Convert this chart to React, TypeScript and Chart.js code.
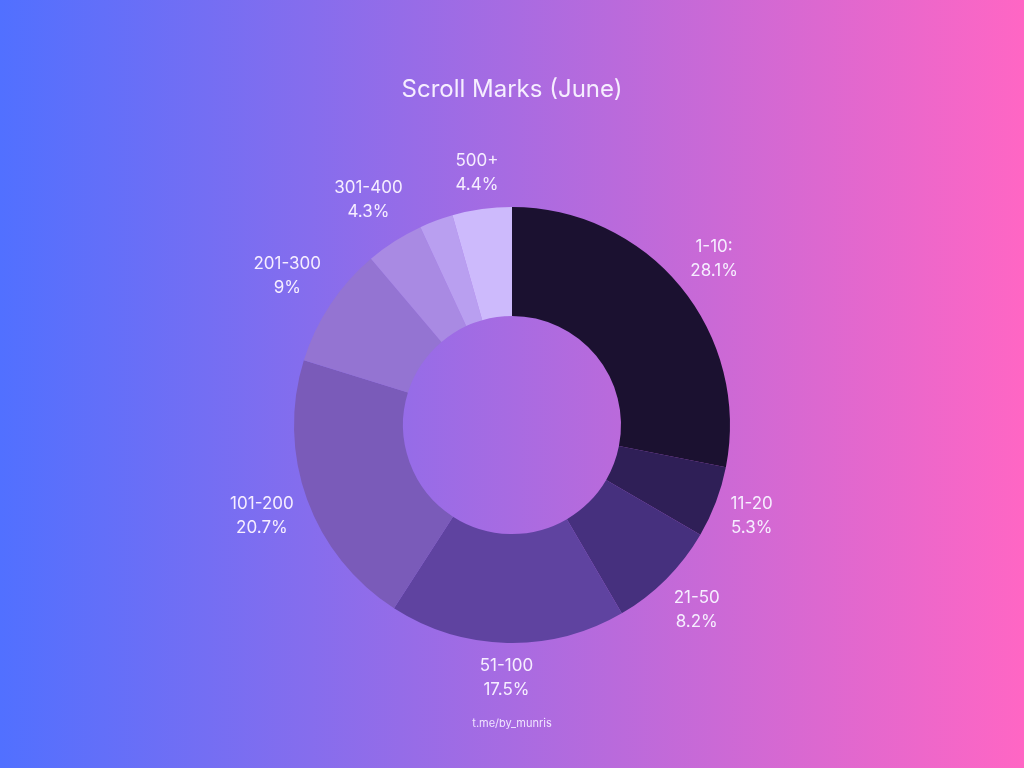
import React, { useEffect, useRef } from 'react';
import { Chart, registerables, Plugin } from 'chart.js';

Chart.register(...registerables);

const ranges = ['1-10', '11-20', '21-50', '51-100', '101-200', '201-300', '301-400', '401-500', '500+'];
const shares = [28.1, 5.3, 8.2, 17.5, 20.7, 9, 4.3, 2.5, 4.4];
// labels shown next to the slices (the 401-500 slice has none)
const sliceLabels = ['1-10:', '11-20', '21-50', '51-100', '101-200', '201-300', '301-400', '', '500+'];
const sliceColors = [
  '#1b1130',
  '#2f1f57',
  '#46307e',
  '#5f43a0',
  '#7a5bb9',
  '#9474d2',
  '#a98ae3',
  '#b99ff0',
  '#cdbafc',
];

const FONT = 'Inter, "Noto Sans", sans-serif';

const backgroundPlugin: Plugin<'doughnut'> = {
  id: 'gradientBackground',
  beforeDraw(chart) {
    const { ctx, width, height } = chart;
    const grad = ctx.createLinearGradient(0, 0, width, 0);
    grad.addColorStop(0, '#5170ff');
    grad.addColorStop(1, '#ff66c4');
    ctx.save();
    ctx.fillStyle = grad;
    ctx.fillRect(0, 0, width, height);
    ctx.restore();
  },
};

const outsideLabels: Plugin<'doughnut'> = {
  id: 'outsideLabels',
  afterDatasetsDraw(chart) {
    const { ctx } = chart;
    const meta = chart.getDatasetMeta(0);
    const lineHeight = 24;
    ctx.save();
    ctx.font = `17px ${FONT}`;
    ctx.fillStyle = '#f6eeff';
    ctx.textAlign = 'center';
    ctx.textBaseline = 'middle';
    meta.data.forEach((arc, i) => {
      if (!sliceLabels[i]) return;
      const p = arc.getProps(['x', 'y', 'startAngle', 'endAngle', 'outerRadius'], true) as any;
      const mid = (p.startAngle + p.endAngle) / 2;
      const lines = [sliceLabels[i], shares[i] + '%'];
      const hw = Math.max(...lines.map((l) => ctx.measureText(l).width)) / 2;
      const hh = (lines.length * lineHeight) / 2;
      const cos = Math.cos(mid);
      const sin = Math.sin(mid);
      const dist = p.outerRadius + 10 + Math.abs(cos) * hw + Math.abs(sin) * hh;
      const cx = p.x + cos * dist;
      const cy = p.y + sin * dist;
      lines.forEach((l, k) => {
        ctx.fillText(l, cx, cy + (k - (lines.length - 1) / 2) * lineHeight);
      });
    });
    ctx.restore();
  },
};

export default function App() {
  const chartRef = useRef<HTMLCanvasElement | null>(null);

  useEffect(() => {
    document.body.style.margin = '0';
    if (!chartRef.current) return;

    const chartInstance = new Chart(chartRef.current, {
      type: 'doughnut',
      data: {
        labels: ranges,
        datasets: [
          {
            data: shares,
            backgroundColor: sliceColors,
            borderWidth: 0,
          },
        ],
      },
      options: {
        animation: false,
        responsive: true,
        maintainAspectRatio: false,
        cutout: '50%',
        layout: { padding: { top: 0, bottom: 30, left: 0, right: 0 } },
        plugins: {
          legend: { display: false },
          tooltip: { enabled: false },
          title: {
            display: true,
            text: 'Scroll Marks (June)',
            color: '#f6eeff',
            font: { family: FONT, size: 24, weight: 'normal', lineHeight: 1.2 },
            padding: { top: 75.6, bottom: 102.6 },
          },
          subtitle: {
            display: true,
            position: 'bottom',
            text: 't.me/by_munris',
            color: '#f0e4ff',
            font: { family: FONT, size: 11, weight: 'normal', lineHeight: 1.2 },
            padding: { top: 74.4, bottom: 7.4 },
          },
        },
      },
      plugins: [backgroundPlugin, outsideLabels],
    });

    return () => {
      chartInstance.destroy();
    };
  }, []);

  return (
    <div style={{ position: 'relative', width: 1024, height: 768 }}>
      <canvas ref={chartRef} />
    </div>
  );
}
